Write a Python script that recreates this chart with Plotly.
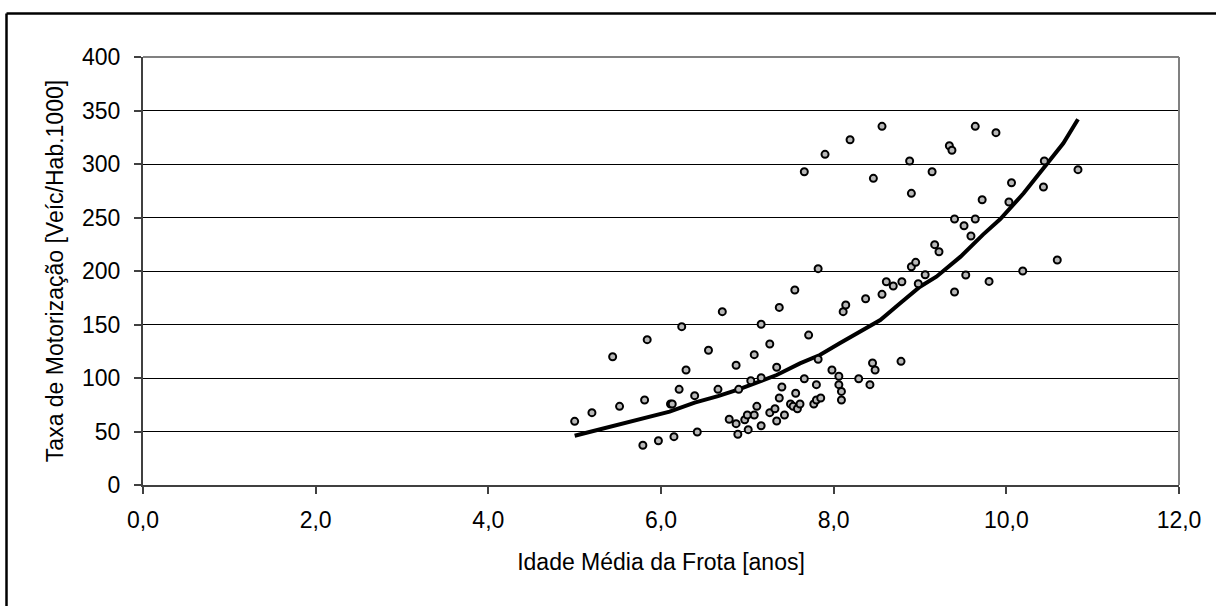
import plotly.graph_objects as go

# Scatter data: idade média da frota [anos] vs taxa de motorização
idade = [5.00, 5.20, 5.44, 5.52, 5.79, 5.81, 5.84, 5.97, 6.11, 6.13, 6.15, 6.21, 6.24, 6.29,
         6.39, 6.42, 6.55, 6.66, 6.71, 6.79, 6.87, 6.87, 6.89, 6.90, 6.97, 7.00, 7.01, 7.04,
         7.08, 7.08, 7.11, 7.16, 7.16, 7.16, 7.26, 7.26, 7.32, 7.34, 7.34, 7.37, 7.37, 7.40,
         7.43, 7.50, 7.53, 7.55, 7.56, 7.58, 7.61, 7.66, 7.66, 7.71, 7.77, 7.80, 7.80, 7.82,
         7.82, 7.85, 7.90, 7.98, 8.06, 8.06, 8.09, 8.09, 8.11, 8.14, 8.19, 8.29, 8.37, 8.42,
         8.45, 8.46, 8.48, 8.56, 8.56, 8.61, 8.69, 8.78, 8.79, 8.88, 8.90, 8.90, 8.95, 8.98,
         9.06, 9.14, 9.17, 9.22, 9.34, 9.37, 9.40, 9.40, 9.51, 9.53, 9.59, 9.64, 9.64, 9.72,
         9.80, 9.88, 10.03, 10.06, 10.19, 10.43, 10.44, 10.59, 10.83]
taxa = [59.5, 67.6, 119.9, 73.5, 37.1, 79.4, 135.8, 41.4, 75.7, 75.7, 45.2, 89.4, 148.0, 107.5,
        83.5, 49.5, 125.9, 89.4, 162.0, 61.4, 111.9, 57.3, 47.4, 89.4, 61.0, 65.4, 51.7, 97.5,
        121.8, 65.4, 73.5, 100.3, 150.2, 55.4, 131.8, 67.6, 71.3, 110.0, 59.8, 166.0, 81.3, 91.6,
        65.4, 75.7, 73.5, 182.2, 85.7, 71.3, 75.7, 99.3, 292.8, 140.1, 75.7, 93.8, 79.4, 117.5,
        202.2, 81.3, 309.0, 107.5, 101.6, 93.8, 87.5, 79.4, 162.0, 168.2, 322.7, 99.3, 174.1, 93.8,
        114.0, 286.6, 107.5, 335.2, 178.2, 190.0, 186.0, 115.6, 190.0, 302.8, 272.6, 204.0, 208.1, 188.1,
        196.5, 292.8, 224.6, 218.0, 317.1, 312.8, 248.6, 180.4, 242.3, 196.3, 232.7, 335.2, 248.6, 266.6,
        190.3, 329.3, 264.5, 282.5, 200.0, 278.5, 302.8, 210.3, 294.7]

# Trend line
tend_x = [5.00, 5.40, 5.81, 6.10, 6.39, 6.66, 6.90, 7.03, 7.34, 7.61, 7.84, 8.07, 8.31,
          8.54, 8.77, 9.00, 9.19, 9.47, 9.73, 9.93, 10.20, 10.47, 10.66, 10.83]
tend_y = [46, 54, 62, 68.5, 77, 83, 89.4, 93.5, 102.8, 113.7, 121.5, 132.4, 143.5,
          154.2, 169.8, 185.3, 194.7, 213.4, 234, 248.5, 272.6, 300.6, 319.3, 341.8]

x_ticks = [0, 2, 4, 6, 8, 10, 12]
x_ticktext = ["0,0", "2,0", "4,0", "6,0", "8,0", "10,0", "12,0"]
y_ticks = [0, 50, 100, 150, 200, 250, 300, 350, 400]

FONT = "Liberation Sans, Arial, sans-serif"
TICK_SIZE = 23
TITLE_SIZE = 23

fig = go.Figure()
fig.add_trace(go.Scatter(
    x=tend_x, y=tend_y, mode="lines",
    line=dict(color="black", width=4),
    showlegend=False, hoverinfo="skip"))
fig.add_trace(go.Scatter(
    x=idade, y=taxa, mode="markers",
    marker=dict(symbol="circle", size=7, color="#b8b8b8",
                line=dict(color="black", width=2)),
    showlegend=False))

# plot-area border (top/right grey)
fig.add_shape(type="line", xref="paper", yref="paper", x0=0, x1=1, y0=1, y1=1,
              line=dict(color="#808080", width=2), layer="above")
fig.add_shape(type="line", xref="paper", yref="paper", x0=1, x1=1, y0=0, y1=1,
              line=dict(color="#808080", width=2), layer="above")
# outer chart frame (left/top, black)
L, T = 143.0, 57.0
W, H = 1036.0, 428.0
fx = (6.5 - L) / W
fy = (485 - 13.5) / H
fig.add_shape(type="line", xref="paper", yref="paper", x0=fx, x1=(1230 - L) / W, y0=fy, y1=fy,
              line=dict(color="black", width=2.5), layer="above")
fig.add_shape(type="line", xref="paper", yref="paper", x0=fx, x1=fx, y0=fy, y1=(485 - 620) / H,
              line=dict(color="black", width=2.5), layer="above")

fig.update_layout(
    width=1216, height=606,
    margin=dict(l=143, r=37, t=57, b=121),
    paper_bgcolor="white", plot_bgcolor="white",
    font=dict(family=FONT, size=TICK_SIZE, color="black"),
    xaxis=dict(
        range=[0, 12], tickvals=x_ticks, ticktext=x_ticktext,
        showgrid=False, zeroline=False,
        showline=True, linecolor="#404040", linewidth=2,
        ticks="outside", ticklen=7, tickcolor="#404040", tickwidth=1.5,
        ticklabelstandoff=6,
        tickfont=dict(family=FONT, size=TICK_SIZE, color="black"),
        title=dict(text="Idade Média da Frota [anos]", standoff=22,
                   font=dict(family=FONT, size=TITLE_SIZE, color="black")),
    ),
    yaxis=dict(
        range=[0, 400], tickvals=y_ticks,
        showgrid=True, gridcolor="black", gridwidth=1,
        zeroline=False,
        showline=True, linecolor="#404040", linewidth=2,
        ticks="outside", ticklen=7, tickcolor="#404040", tickwidth=1.5,
        ticklabelstandoff=9,
        tickfont=dict(family=FONT, size=TICK_SIZE, color="black"),
        title=dict(text="Taxa de Motorização [Veíc/Hab.1000]", standoff=12,
                   font=dict(family=FONT, size=TITLE_SIZE, color="black")),
    ),
)

fig.write_html("out.html", config={"displayModeBar": False},
               post_script="document.body.style.margin='0';document.body.style.overflow='hidden';")
